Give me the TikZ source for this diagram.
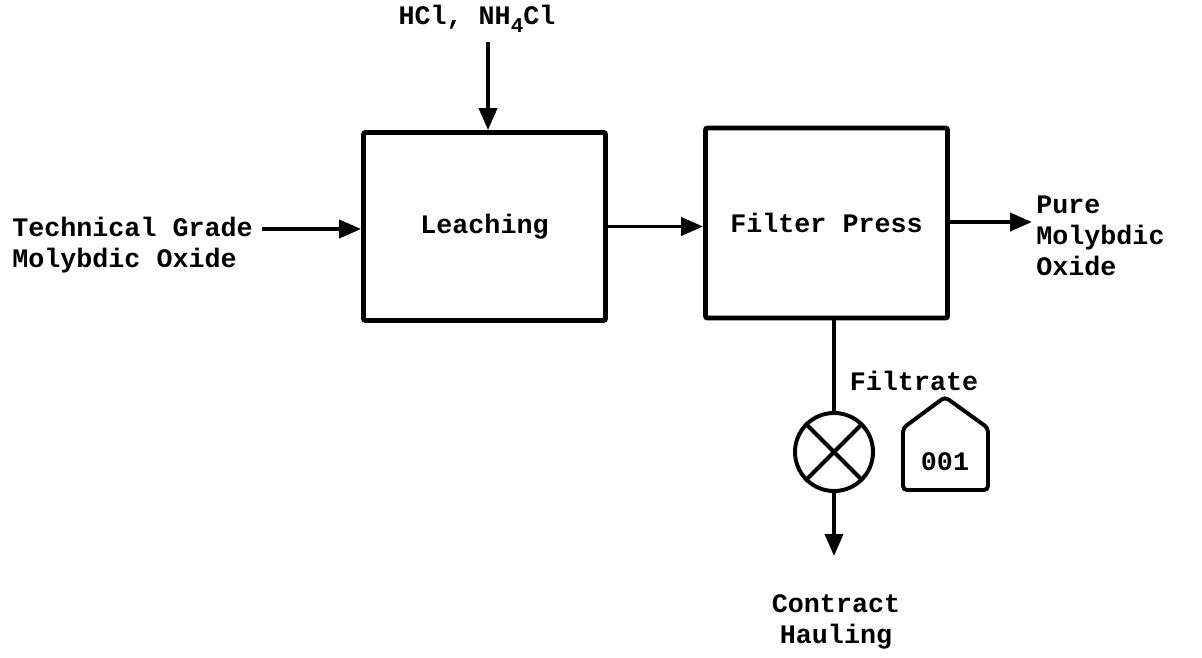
\documentclass[tikz,border=0pt]{standalone}
\usepackage{fontspec}
\newfontfamily\typefont{Liberation Mono}
\usepackage{tikz}
\usetikzlibrary{arrows.meta,calc,positioning}
\tikzset{
  flow/.style={-{Triangle[length=0.55cm,width=0.45cm]},line width=2.8pt},
  pipe/.style={line width=2.8pt},
  unitbox/.style={draw,line width=3.4pt,rounded corners=0.5mm,minimum width=6.05cm,minimum height=4.7cm,inner sep=0pt},
  typed/.style={font=\typefont\bfseries\fontsize{19}{22}\selectfont,inner sep=0pt,align=left},
  valve/.style={draw,circle,line width=2.8pt,minimum size=1.95cm,inner sep=0pt}
}
\newcommand{\lowfour}{\raisebox{-0.55ex}{\fontsize{15}{15}\selectfont 4}}

\begin{document}
\begin{tikzpicture}[x=0.025cm,y=-0.025cm]
  \useasboundingbox (0,0) rectangle (1202,657);
  % process units
  \node[unitbox,typed] (leach) at (484.5,226.5) {Leaching};
  \node[unitbox,typed,minimum height=4.75cm] (filt) at (826.5,223) {Filter Press};
  % reagents from above
  \node[typed,anchor=base] (reag) at (477,25) {HCl, NH\lowfour Cl};
  \coordinate (reagin) at (488,42);
  \draw[flow] (reagin) -- (reagin |- leach.north);
  % feed
  \node[typed,anchor=north west] (feed) at (12,217) {Technical Grade\\Molybdic Oxide};
  \coordinate (feedin) at (262,229);
  \draw[flow] (feedin) -- (feedin -| leach.west);
  \draw[flow] (leach.east) -- (leach.east -| filt.west);
  % product
  \node[typed,anchor=west] (prod) at (1036,236) {Pure\\Molybdic\\Oxide};
  \coordinate (prodout) at (1032,222);
  \draw[flow] (prodout -| filt.east) -- (prodout);
  % filtrate to hauling
  \node[valve] (drum) at (834,452) {};
  \draw[pipe] (drum.north |- filt.south) -- (drum.north);
  \draw[line width=2.8pt] (drum.north west) -- (drum.south east);
  \draw[line width=2.8pt] (drum.north east) -- (drum.south west);
  \coordinate (haulin) at (834,556);
  \draw[flow] (drum.south) -- (haulin);
  \node[typed,align=center] (haul) at (836,622) {Contract\\Hauling};
  % stream tag
  \node[typed] (filtlbl) at (914,381) {Filtrate};
  \draw[line width=2.8pt,rounded corners=1mm] (903,428) -- (945,397) -- (988,428) -- (988,490) -- (903,490) -- cycle;
  \node[typed] (tag) at (945,462) {001};
\end{tikzpicture}
\end{document}
